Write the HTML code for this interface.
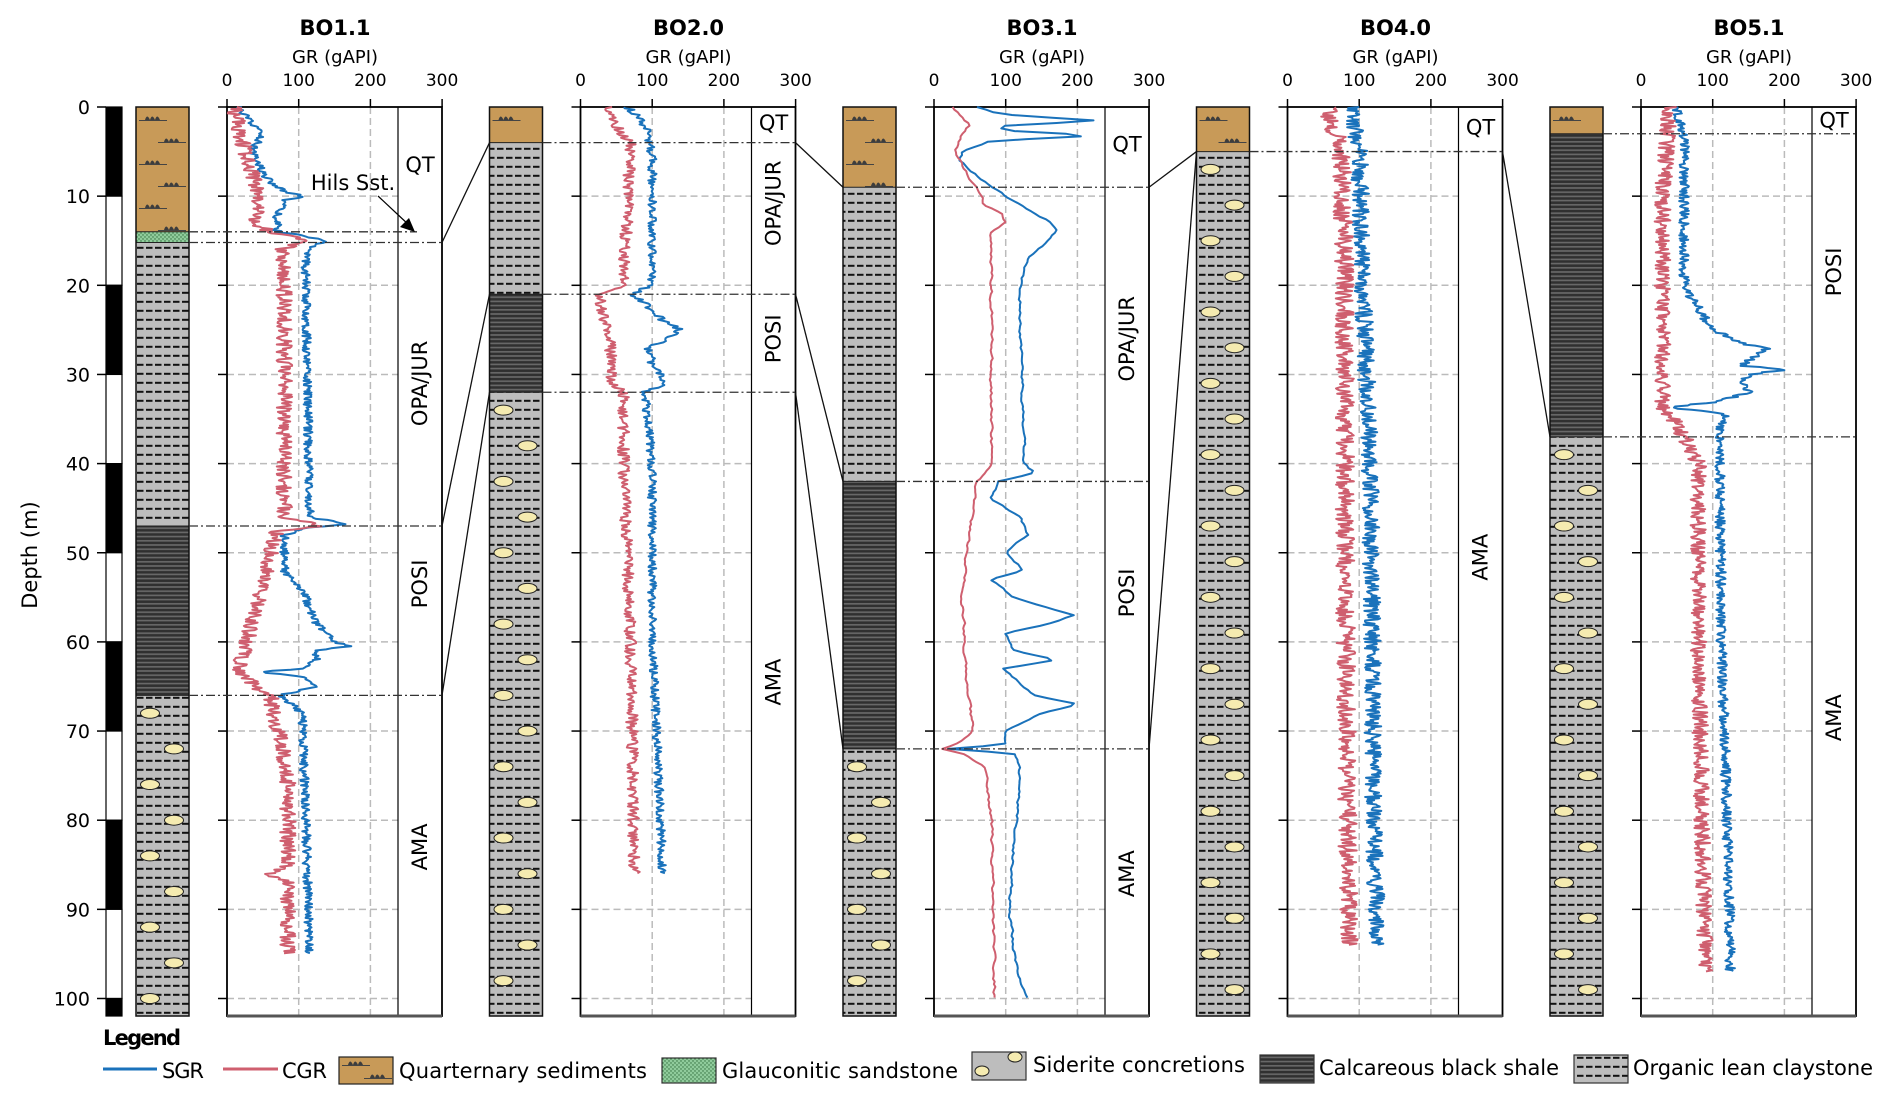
<!DOCTYPE html>
<html><head><meta charset="utf-8">
<style>
html,body{margin:0;padding:0;background:#fff;}
svg{display:block;}
text{font-family:"DejaVu Sans","Liberation Sans",sans-serif;fill:#000;}
</style></head>
<body>
<svg id="s" width="1892" height="1104" viewBox="0 0 1892 1104" xmlns="http://www.w3.org/2000/svg">
<defs>
<pattern id="clay" patternUnits="userSpaceOnUse" width="18" height="9">
<rect width="18" height="9" fill="#bdbdbd"/>
<rect x="2" y="3.8" width="6.5" height="2" fill="#111"/>
<rect x="11" y="3.8" width="6.5" height="2" fill="#111"/>
</pattern>
<pattern id="shale" patternUnits="userSpaceOnUse" width="10" height="4.2">
<rect width="10" height="4.2" fill="#303030"/>
<rect y="2.4" width="10" height="1.6" fill="#6a6a6a"/>
</pattern>
<pattern id="glau" patternUnits="userSpaceOnUse" width="4" height="4">
<rect width="4" height="4" fill="#8fcb9b"/>
<circle cx="1" cy="1" r="0.7" fill="#2e6b3a"/>
<circle cx="3" cy="3" r="0.7" fill="#2e6b3a"/>
</pattern>
</defs>
<g id="g"></g>
</svg>
<script>
var out=[];
function A(s){out.push(s);}
var T=107,S=8.915,BOT=1016;
function Y(d){return T+d*S;}
var seed=12345;
function rnd(){seed|=0;seed=seed+0x6D2B79F5|0;var t=Math.imul(seed^seed>>>15,1|seed);t=t+Math.imul(t^t>>>7,61|t)^t;return((t^t>>>14)>>>0)/4294967296;}
function interp(p,d){for(var i=0;i<p.length-1;i++){if(d>=p[i][0]&&d<=p[i+1][0]){var f=(d-p[i][0])/(p[i+1][0]-p[i][0]||1);return p[i][1]+f*(p[i+1][1]-p[i][1]);}}return p[p.length-1][1];}
function curve(x0,p,noise,step,col,sm){var s="";var prev=0;for(var d=p[0][0];d<=p[p.length-1][0]+1e-6;d+=step){var n=(rnd()-0.5)*2*noise;if(sm){n=prev*0.6+n*0.4;prev=n;}var v=interp(p,d)+n;s+=(s?"L":"M")+(x0+v*0.717).toFixed(1)+","+Y(d).toFixed(1);}A('<path d="'+s+'" fill="none" stroke="'+col+'" stroke-width="2" stroke-linejoin="round"/>');}
function txt(x,y,t,sz,anc,extra){A('<text x="'+x+'" y="'+y+'" font-size="'+sz+'" text-anchor="'+(anc||"middle")+'" '+(extra||"")+'>'+t+'</text>');}
function line(x1,y1,x2,y2,st){A('<line x1="'+x1+'" y1="'+y1+'" x2="'+x2+'" y2="'+y2+'" '+st+'/>');}
function mound(cx,y){A('<path d="M'+(cx-8)+','+(y+3)+'q2,-7 5,0q2,-7 5,0q2,-7 5,0z" fill="#3d3d3d"/>');line(cx-14,y+3.5,cx+14,y+3.5,'stroke="#444" stroke-width="1"');}
function quat(x,y0,y1){A('<rect x="'+x+'" y="'+y0+'" width="53" height="'+(y1-y0)+'" fill="#c89a58"/>');var k=0;for(var y=y0+10;y<y1-4;y+=22,k++){mound(x+(k%2?36:17),y);}}
function lith(x,segs){segs.forEach(function(s){var y0=Y(s[1]),y1=s[2]>=102?BOT:Y(s[2]);if(s[0]=="q")quat(x,y0,y1);else{var f=s[0]=="c"||s[0]=="s"?"url(#clay)":s[0]=="b"?"url(#shale)":"url(#glau)";A('<rect x="'+x+'" y="'+y0+'" width="53" height="'+(y1-y0)+'" fill="'+f+'"/>');if(s[0]=="s"){var k=0;for(var d=s[1]+2;d<s[2]-0.5;d+=4,k++){A('<ellipse cx="'+(x+(k%2?38:14))+'" cy="'+Y(d)+'" rx="9.5" ry="5" fill="#f5ebb0" stroke="#222" stroke-width="1"/>');}}}
  if(s[1]>0)line(x,y0,x+53,y0,'stroke="#222" stroke-width="1"');});
A('<rect x="'+x+'" y="'+T+'" width="53" height="'+(BOT-T)+'" fill="none" stroke="#111" stroke-width="1.5"/>');}
function plot(x0,title){var x1=x0+215,dv=x0+171;
 txt(x0+108,35,title,21,"middle",'font-weight="bold"');
 txt(x0+108,63,"GR (gAPI)",18);
 [0,100,200,300].forEach(function(v){var x=x0+v*0.717;txt(x,86,v,17);line(x,T,x,T-8,'stroke="#000" stroke-width="1.5"');});
 for(var d=10;d<=100;d+=10){line(x0,Y(d),dv,Y(d),'stroke="#bbb" stroke-width="1.5" stroke-dasharray="7,4"');line(x0-9,Y(d),x0,Y(d),'stroke="#000" stroke-width="1.5"');}
 line(x0-9,Y(0),x0,Y(0),'stroke="#000" stroke-width="1.5"');
 [100,200].forEach(function(v){var x=x0+v*0.717;line(x,T,x,BOT,'stroke="#bbb" stroke-width="1.5" stroke-dasharray="7,4"');});
 line(dv,T,dv,BOT,'stroke="#000" stroke-width="1.2"');
 A('<rect x="'+x0+'" y="'+T+'" width="215" height="'+(BOT-T)+'" fill="none" stroke="#000" stroke-width="1.8"/>');
 line(x0,BOT,x1,BOT,'stroke="#555" stroke-width="3"');}
function flab(x0,t,d,rot){var x=x0+193;if(rot)txt(0,0,t,21,"middle",'transform="translate('+(x+7)+','+Y(d)+') rotate(-90)"');else txt(x,Y(d)+7,t,21);}
function dd(x0,lx,d,xe){line(lx+53,Y(d),xe||x0+215,Y(d),'stroke="#333" stroke-width="1.3" stroke-dasharray="9,3,2,3"');}
for(var i=0;i<11;i++){var y0=Y(i*10),y1=Math.min(Y(i*10+10),BOT);A('<rect x="106" y="'+y0+'" width="16" height="'+(y1-y0)+'" fill="'+(i%2?'#fff':'#000')+'" stroke="#000" stroke-width="1.2"/>');line(97,Y(i*10),106,Y(i*10),'stroke="#000" stroke-width="1.5"');txt(90,Y(i*10)+7,i*10,19,"end");}
txt(0,0,"Depth (m)",21,"middle",'transform="translate(37,555) rotate(-90)"');
var D=353.5;
var L=[136,136+D,136+2*D,136+3*D,136+4*D],P=[227,227+D,227+2*D,227+3*D,227+4*D];
lith(L[0],[["q",0,14],["g",14,15.2],["c",15.2,47],["b",47,66],["s",66,102]]);
lith(L[1],[["q",0,4],["c",4,21],["b",21,32],["s",32,102]]);
lith(L[2],[["q",0,9],["c",9,42],["b",42,72],["s",72,102]]);
lith(L[3],[["q",0,5],["s",5,102]]);
lith(L[4],[["q",0,3],["b",3,37],["s",37,102]]);
var titles=["BO1.1","BO2.0","BO3.1","BO4.0","BO5.1"];
for(var i=0;i<5;i++)plot(P[i],titles[i]);
var SB="#1a72bb",CR="#cf5f6f";
curve(P[0],[[0,15],[2,35],[3,50],[5,35],[8,55],[9.5,80],[10,105],[10.5,80],[12,70],[14,70],[14.5,110],[15,140],[16,110],[20,110],[46,115],[46.8,170],[47.2,110],[48,80],[52,80],[55,110],[58,125],[60,150],[60.5,170],[61,120],[62,125],[63,110],[63.4,40],[63.8,100],[65,125],[66,75],[68,105],[80,110],[95,115]],6,0.12,SB);
curve(P[0],[[0,10],[5,25],[10,45],[13,40],[14,60],[15,110],[16,75],[20,80],[46,80],[47,130],[47.5,70],[52,55],[58,35],[62,20],[63,15],[65,40],[66,60],[75,85],[85,85],[86,55],[87,85],[95,85]],11,0.12,CR);
curve(P[1],[[0,65],[1,80],[3,95],[6,100],[20,100],[21,70],[22,90],[24,115],[25,140],[26,120],[27,95],[29,100],[30,110],[31,120],[32,90],[40,100],[60,100],[86,115]],6,0.15,SB);
curve(P[1],[[0,40],[3,55],[4,70],[20,60],[21,25],[23,30],[26,40],[31,45],[32,60],[40,60],[60,70],[86,75]],8,0.15,CR);
curve(P[2],[[0,60],[0.8,90],[1.6,240],[2.0,100],[2.6,90],[3.2,230],[3.8,80],[5,40],[6,35],[7,50],[9,80],[10.5,110],[12,140],[13,165],[14,170],[15,160],[17,130],[20,120],[40,125],[41,140],[42,90],[44,80],[46,120],[48,130],[50,100],[52,125],[53,80],[55,110],[56,150],[57,195],[58,160],[59,100],[61,110],[62,170],[63,95],[64,110],[66,140],[67,200],[68,150],[70,100],[71.5,100],[72,20],[72.5,110],[74,120],[80,115],[90,105],[97,115],[100,130]],4,0.3,SB,1);
curve(P[2],[[0,25],[2,50],[3,40],[5,30],[8,50],[10,65],[11,70],[12,95],[13,100],[14,80],[17,80],[40,80],[42,60],[50,45],[55,40],[65,45],[70,55],[71.5,30],[72,10],[72.5,40],[74,70],[80,80],[100,85]],4,0.3,CR,1);
curve(P[3],[[0,90],[5,100],[20,105],[40,115],[60,118],[80,120],[94,125]],12,0.12,SB);
curve(P[3],[[0,55],[5,75],[20,80],[50,80],[94,85]],13,0.12,CR);
curve(P[4],[[0,50],[2,55],[3,60],[10,60],[20,60],[22,75],[25,100],[26.5,140],[27,175],[28,160],[29,140],[29.5,200],[30,150],[31,140],[32,150],[33,110],[33.7,40],[34.5,120],[36,110],[40,110],[60,112],[80,120],[97,125]],7,0.12,SB);
curve(P[4],[[0,40],[5,35],[10,30],[20,30],[34,30],[35,45],[37,60],[40,80],[60,80],[80,85],[97,90]],11,0.12,CR);
dd(P[0],L[0],14,P[0]+190);dd(P[0],L[0],15.2);dd(P[0],L[0],47);dd(P[0],L[0],66);
dd(P[1],L[1],4);dd(P[1],L[1],21);dd(P[1],L[1],32);
dd(P[2],L[2],9);dd(P[2],L[2],42);dd(P[2],L[2],72);
dd(P[3],L[3],5);
dd(P[4],L[4],3);dd(P[4],L[4],37);
var cs='stroke="#111" stroke-width="1.3"';
[[15.2,4],[47,21],[66,32]].forEach(function(a){line(P[0]+215,Y(a[0]),L[1],Y(a[1]),cs);});
[[4,9],[21,42],[32,72]].forEach(function(a){line(P[1]+215,Y(a[0]),L[2],Y(a[1]),cs);});
[[9,5],[72,5]].forEach(function(a){line(P[2]+215,Y(a[0]),L[3],Y(a[1]),cs);});
line(P[3]+215,Y(5),L[4],Y(37),cs);
flab(P[0],"QT",6.5);flab(P[0],"OPA/JUR",31,1);flab(P[0],"POSI",53.5,1);flab(P[0],"AMA",83,1);
flab(P[1],"QT",1.8);flab(P[1],"OPA/JUR",10.8,1);flab(P[1],"POSI",26,1);flab(P[1],"AMA",64.5,1);
flab(P[2],"QT",4.2);flab(P[2],"OPA/JUR",26,1);flab(P[2],"POSI",54.5,1);flab(P[2],"AMA",86,1);
flab(P[3],"QT",2.3);flab(P[3],"AMA",50.5,1);
flab(P[4],"QT",1.5);flab(P[4],"POSI",18.5,1);flab(P[4],"AMA",68.5,1);
txt(353,190,"Hils Sst.",21);
line(378,196,410,226,'stroke="#000" stroke-width="1.2"');
A('<path d="M415,232 L400,227 L409,218 Z" fill="#000"/>');
txt(103,1045,"Legend",21,"start",'font-weight="bold" textLength="78"');
var LY=1078;
line(103,1069,157,1069,'stroke="'+SB+'" stroke-width="3"');txt(162,LY,"SGR",21,"start",'textLength="42"');
line(223,1069,278,1069,'stroke="'+CR+'" stroke-width="3"');txt(282,LY,"CGR",21,"start",'textLength="45"');
A('<rect x="339" y="1057" width="54" height="27" fill="#c89a58" stroke="#222" stroke-width="1.2"/>');
mound(356,1062);mound(378,1075);
txt(399,LY,"Quarternary sediments",21,"start",'textLength="248"');
A('<rect x="662" y="1058" width="54" height="25" fill="url(#glau)" stroke="#333" stroke-width="1.2"/>');
txt(722,LY,"Glauconitic sandstone",21,"start",'textLength="236"');
A('<rect x="972" y="1052" width="54" height="28" fill="#bdbdbd" stroke="#333" stroke-width="1.2"/>');
A('<ellipse cx="982" cy="1071" rx="7" ry="5" fill="#f5ebb0" stroke="#222"/><ellipse cx="1015" cy="1057" rx="7" ry="5" fill="#f5ebb0" stroke="#222"/>');
txt(1033,1072,"Siderite concretions",21,"start",'textLength="212"');
A('<rect x="1260" y="1055" width="54" height="28" fill="url(#shale)" stroke="#333" stroke-width="1.2"/>');
txt(1319,1075,"Calcareous black shale",21,"start",'textLength="240"');
A('<rect x="1574" y="1055" width="54" height="28" fill="url(#clay)" stroke="#333" stroke-width="1.2"/>');
txt(1633,1075,"Organic lean claystone",21,"start",'textLength="240"');
document.getElementById("g").innerHTML=out.join("");
</script>
</body></html>
